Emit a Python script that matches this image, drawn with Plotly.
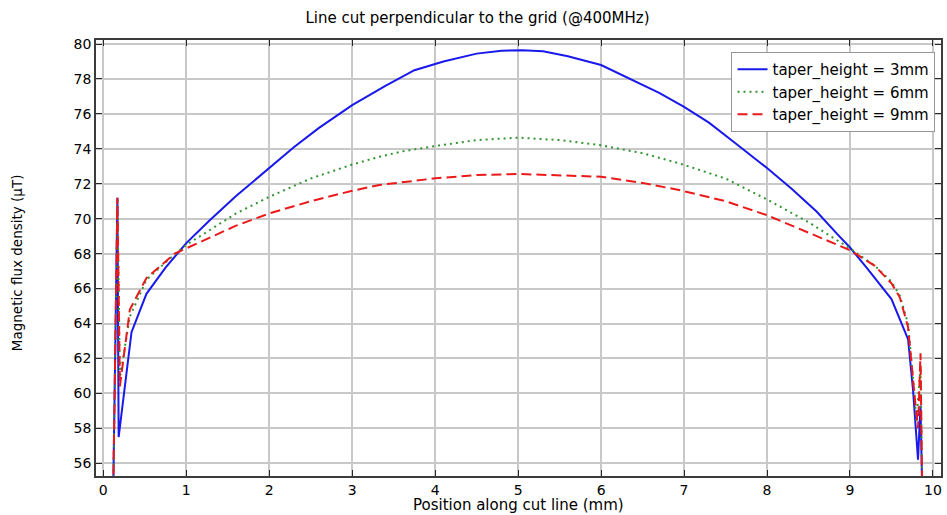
import plotly.graph_objects as go

x_3mm = [0.12, 0.17, 0.185, 0.34, 0.52, 0.75, 1.0, 1.28, 1.6, 2.0, 2.3, 2.6, 3.0, 3.4, 3.75, 4.1, 4.5, 4.8, 5.05,
         5.3, 5.6, 6.0, 6.35, 6.7, 7.0, 7.3, 7.65, 8.0, 8.3, 8.6, 8.85, 9.0, 9.2, 9.5, 9.7, 9.76, 9.82, 9.85, 9.87]
y_3mm = [54.5, 71.2, 57.5, 63.5, 65.7, 67.2, 68.6, 69.9, 71.3, 72.9, 74.1, 75.2, 76.5, 77.6, 78.5, 79.0, 79.45, 79.62, 79.65,
         79.58, 79.3, 78.8, 78.0, 77.2, 76.4, 75.5, 74.2, 72.9, 71.7, 70.4, 69.1, 68.35, 67.2, 65.4, 63.1, 60.2, 56.2, 59.3, 54.5]

x_6mm = [0.12, 0.17, 0.2, 0.32, 0.52, 0.75, 1.0, 1.28, 1.6, 2.0, 2.5, 3.0, 3.33, 3.6, 4.0, 4.5, 5.0, 5.5, 6.0, 6.5,
         6.94, 7.5, 8.0, 8.5, 9.0, 9.3, 9.5, 9.6, 9.7, 9.78, 9.8, 9.85, 9.87]
y_6mm = [54.5, 71.2, 60.9, 64.4, 66.5, 67.5, 68.5, 69.35, 70.3, 71.25, 72.3, 73.1, 73.55, 73.85, 74.16, 74.5, 74.64, 74.5,
         74.2, 73.75, 73.17, 72.3, 71.1, 69.8, 68.3, 67.3, 66.4, 65.6, 64.0, 59.8, 58.4, 61.5, 55.0]

x_9mm = [0.12, 0.17, 0.2, 0.32, 0.52, 0.86, 1.0, 1.28, 1.6, 2.0, 2.5, 3.0, 3.33, 4.0, 4.5, 5.0, 5.5, 6.0, 6.5, 6.94,
         7.5, 8.0, 8.5, 9.0, 9.3, 9.5, 9.6, 9.7, 9.78, 9.82, 9.85, 9.87]
y_9mm = [54.5, 71.2, 60.4, 64.8, 66.6, 68.0, 68.3, 68.9, 69.6, 70.3, 71.0, 71.6, 71.93, 72.31, 72.5, 72.56, 72.5, 72.4,
         72.05, 71.64, 71.0, 70.2, 69.2, 68.2, 67.3, 66.3, 65.5, 63.8, 59.8, 58.0, 62.3, 54.5]

names = ["taper_height = 3mm", "taper_height = 6mm", "taper_height = 9mm"]
colors = ["rgb(25,25,235)", "rgb(50,150,50)", "rgb(235,25,25)"]
dashes = ["solid", "2px,4px", "10px,5px"]

FONT = "DejaVu Sans"

fig = go.Figure()
for xs, ys, nm, c, d in zip([x_3mm, x_6mm, x_9mm], [y_3mm, y_6mm, y_9mm], names, colors, dashes):
    fig.add_trace(go.Scatter(x=xs, y=ys, mode="lines", name=nm,
                             line=dict(color=c, width=2, dash=d)))

axis_common = dict(showgrid=True, gridcolor="rgb(200,200,200)", gridwidth=1.5,
                   zeroline=False, showline=True, linecolor="rgb(60,60,60)", linewidth=1.5,
                   mirror="ticks", ticks="inside", ticklen=6, tickcolor="rgb(40,40,40)",
                   tickfont=dict(family=FONT, size=14, color="black"))

fig.update_layout(
    width=947, height=515,
    margin=dict(l=96, r=4, t=40, b=39),
    paper_bgcolor="white", plot_bgcolor="white",
    font=dict(family=FONT, size=13, color="black"),
    title=dict(text="Line cut perpendicular to the grid (@400MHz)", x=(300 + 655) / 2 / 947, xanchor="center",
               y=1 - 18 / 515, yanchor="middle", font=dict(family=FONT, size=15)),
    xaxis=dict(range=[-0.088, 10.097], tickmode="array", tickvals=list(range(0, 11)),
               ticktext=[str(i) for i in range(0, 11)], **axis_common),
    yaxis=dict(range=[55.27, 80.23], tickmode="array", tickvals=list(range(56, 81, 2)),
               ticktext=[str(v) for v in range(56, 81, 2)], **axis_common),
    legend=dict(x=(733 - 96) / 847, y=0.9725, xanchor="left", yanchor="top",
                bgcolor="white", bordercolor="rgb(150,150,150)", borderwidth=1,
                font=dict(family=FONT, size=15), tracegroupgap=0, itemwidth=30),
    showlegend=True,
    annotations=[
        dict(text="Position along cut line (mm)", xref="paper", yref="paper", x=(520 - 96) / 847,
             y=-(505 - 476) / 436,
             xanchor="center", yanchor="middle", showarrow=False, font=dict(family=FONT, size=15)),
        dict(text="Magnetic flux density (µT)", xref="paper", yref="paper", x=-(96 - 17) / 847,
             y=1 - (263 - 40) / 436,
             xanchor="center", yanchor="middle", textangle=-90, showarrow=False,
             font=dict(family=FONT, size=13.5)),
    ],
)

fig.write_html("out.html")
